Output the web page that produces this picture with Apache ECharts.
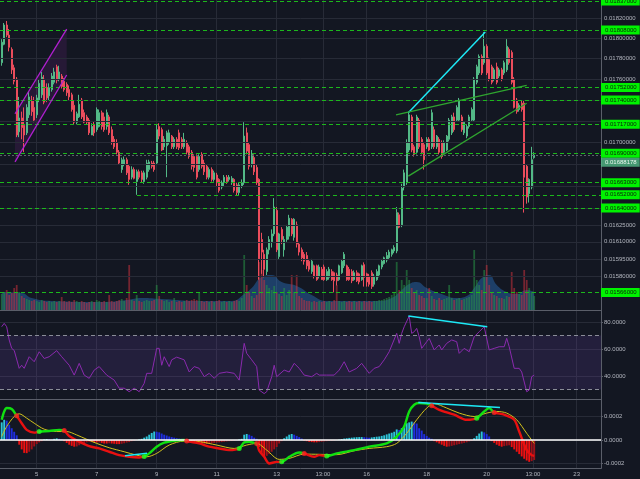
<!DOCTYPE html>
<html>
<head>
<meta charset="utf-8">
<script src="https://cdn.jsdelivr.net/npm/echarts@6/dist/echarts.min.js"></script>
<style>
  html, body { margin: 0; padding: 0; background: #131722; }
  #chart { width: 640px; height: 479px; }
</style>
</head>
<body>
<div id="chart"></div>
<script>
// ETH/BTC style 2-hour candles, prices quoted in units of 0.00001
const UNIT = 1e-5;
const firstBarDay = 3 + 20 / 24;   // first bar: the 3rd, 20:00
const barStepDay = 2 / 24;         // 2-hour bars
const xMinDay = 3.7767, xMaxDay = 23.81;

const xTickDays = [5, 7, 9, 11, 13, 14 + 13 / 24, 16, 18, 20, 21 + 13 / 24, 23];
const xTickText = ['5', '7', '9', '11', '13', '13:00', '16', '18', '20', '13:00', '23'];

const openPx = [
  1776,1794,1813,1803,1789,1771,1760,1710,1723,1716,
  1709,1726,1740,1733,1726,1740,1745,1760,1752,1744,
  1750,1757,1772,1760,1763,1758,1755,1750,1745,1735,
  1719,1724,1740,1728,1724,1721,1707,1717,1712,1715,
  1728,1724,1715,1724,1712,1703,1700,1691,1675,1680,
  1684,1678,1668,1675,1664,1673,1672,1664,1668,1675,
  1681,1681,1681,1715,1712,1696,1697,1700,1706,1696,
  1703,1709,1703,1696,1700,1696,1691,1687,1687,1675,
  1689,1681,1678,1668,1675,1666,1670,1666,1659,1663,
  1668,1666,1663,1666,1661,1654,1660,1663,1709,1698,
  1680,1686,1677,1666,1612,1599,1584,1603,1610,1617,
  1638,1597,1621,1603,1612,1615,1630,1614,1625,1608,
  1603,1599,1598,1593,1584,1589,1589,1580,1586,1588,
  1577,1579,1584,1583,1581,1577,1583,1589,1589,1586,
  1584,1577,1583,1582,1577,1590,1582,1580,1583,1573,
  1577,1581,1588,1591,1594,1596,1599,1602,1602,1634,
  1625,1659,1663,1693,1724,1696,1691,1721,1703,1698,
  1696,1703,1696,1712,1696,1703,1700,1691,1693,1703,
  1709,1724,1721,1721,1724,1709,1706,1715,1721,1721,
  1757,1766,1782,1776,1792,1779,1772,1760,1772,1763,
  1769,1766,1769,1789,1786,1760,1740,1731,1737,1737,
  1678,1653,1659,1686
];
const closePx = [
  1796,1813,1803,1791,1769,1758,1707,1723,1714,1707,
  1733,1743,1729,1721,1742,1756,1762,1738,1742,1752,
  1763,1767,1759,1767,1753,1750,1747,1743,1731,1719,
  1727,1736,1724,1719,1719,1709,1715,1709,1731,1728,
  1715,1712,1728,1709,1700,1696,1691,1681,1684,1684,
  1672,1666,1675,1667,1673,1668,1666,1672,1681,1682,
  1678,1675,1712,1706,1693,1703,1709,1709,1696,1703,
  1696,1695,1696,1703,1691,1687,1678,1677,1668,1687,
  1678,1673,1668,1675,1666,1672,1663,1656,1663,1668,
  1664,1668,1667,1656,1654,1661,1663,1706,1692,1678,
  1689,1673,1663,1595,1601,1586,1603,1612,1617,1641,
  1603,1617,1612,1612,1623,1631,1617,1630,1608,1601,
  1596,1593,1589,1586,1593,1580,1577,1588,1577,1577,
  1584,1586,1577,1576,1576,1589,1593,1599,1577,1577,
  1576,1583,1576,1575,1589,1579,1575,1573,1571,1580,
  1584,1589,1593,1596,1598,1601,1603,1605,1636,1623,
  1658,1672,1700,1726,1693,1689,1724,1696,1691,1684,
  1703,1693,1728,1696,1706,1691,1687,1700,1706,1721,
  1724,1712,1733,1740,1712,1719,1715,1724,1731,1760,
  1772,1782,1766,1792,1766,1760,1757,1769,1757,1769,
  1760,1776,1792,1776,1757,1733,1729,1735,1731,1668,
  1650,1666,1684,1688.178
];
const lowPx = [
  1773,1793,1801,1787,1765,1755,1705,1705,1703,1691,
  1707,1723,1725,1719,1723,1738,1742,1736,1738,1740,
  1748,1755,1756,1758,1751,1748,1744,1740,1729,1717,
  1717,1723,1722,1718,1717,1707,1707,1706,1710,1714,
  1712,1710,1712,1707,1698,1694,1689,1680,1672,1678,
  1670,1661,1666,1666,1652,1666,1663,1662,1666,1673,
  1676,1673,1680,1703,1692,1693,1668,1698,1694,1694,
  1694,1693,1694,1694,1689,1685,1675,1673,1666,1673,
  1676,1670,1666,1666,1664,1664,1660,1654,1657,1660,
  1662,1664,1661,1654,1651,1651,1658,1661,1689,1675,
  1677,1670,1661,1577,1582,1579,1581,1599,1605,1615,
  1601,1595,1608,1597,1610,1612,1615,1611,1605,1598,
  1593,1590,1586,1584,1582,1578,1576,1578,1577,1576,
  1576,1577,1576,1566,1572,1576,1582,1587,1576,1576,
  1574,1576,1575,1573,1576,1571,1571,1571,1569,1571,
  1576,1579,1586,1590,1592,1595,1597,1600,1600,1622,
  1623,1656,1661,1691,1691,1687,1689,1694,1689,1675,
  1694,1692,1694,1694,1694,1689,1685,1689,1692,1701,
  1707,1710,1720,1720,1710,1707,1704,1713,1720,1720,
  1755,1764,1764,1774,1764,1758,1755,1758,1755,1761,
  1758,1764,1767,1774,1755,1732,1727,1729,1729,1636,
  1644,1645,1657,1685
];
const highPx = [
  1799,1815,1817,1809,1791,1774,1762,1743,1729,1733,
  1736,1748,1744,1743,1745,1760,1767,1764,1756,1756,
  1766,1771,1774,1773,1765,1761,1757,1754,1747,1740,
  1729,1745,1742,1731,1726,1723,1718,1720,1733,1731,
  1730,1728,1731,1726,1715,1706,1703,1693,1686,1687,
  1686,1680,1678,1677,1675,1675,1674,1674,1684,1684,
  1683,1683,1717,1718,1714,1706,1711,1712,1707,1705,
  1705,1712,1705,1709,1702,1698,1693,1689,1689,1689,
  1691,1684,1680,1677,1677,1674,1672,1667,1665,1670,
  1670,1670,1669,1667,1663,1663,1666,1719,1714,1700,
  1693,1689,1680,1667,1618,1603,1605,1615,1621,1649,
  1641,1618,1623,1615,1625,1634,1631,1631,1628,1610,
  1605,1601,1601,1595,1595,1590,1590,1590,1588,1590,
  1586,1588,1586,1584,1583,1590,1595,1601,1590,1588,
  1586,1585,1585,1583,1590,1592,1583,1582,1585,1582,
  1586,1590,1595,1597,1601,1603,1604,1607,1641,1636,
  1662,1675,1703,1729,1726,1698,1726,1723,1705,1700,
  1705,1705,1731,1715,1707,1705,1702,1702,1707,1723,
  1726,1728,1735,1742,1726,1720,1717,1726,1733,1762,
  1774,1784,1784,1806,1794,1781,1774,1771,1776,1771,
  1771,1778,1799,1791,1788,1762,1742,1737,1740,1740,
  1680,1667,1696,1691
];

// traded volume per bar (relative units)
const volume = [
  16,18,20,15,17,22,25,18,14,12,
  11,10,9,10,9,8,10,9,8,9,
  8,9,8,9,13,9,8,9,8,10,
  9,8,9,8,7,8,9,8,10,9,
  8,9,8,15,9,8,9,10,11,9,
  12,45,10,9,15,9,8,9,10,9,
  9,10,25,14,10,9,10,8,9,12,
  8,9,8,9,10,9,10,11,10,17,
  9,8,9,8,9,8,9,10,8,9,
  8,9,8,9,10,9,12,55,25,18,
  14,12,15,48,40,30,25,22,20,24,
  18,16,14,22,15,20,35,18,35,14,
  12,10,9,9,8,9,8,9,8,9,
  8,9,8,10,25,9,8,9,8,9,
  8,9,8,9,8,9,8,9,8,9,
  9,10,10,11,12,13,15,18,48,20,
  30,25,40,30,22,18,20,15,14,12,
  12,22,14,11,10,12,10,11,12,25,
  12,10,11,12,10,11,12,13,15,60,
  30,25,20,40,45,25,18,15,14,12,
  12,11,14,13,38,22,18,16,15,40,
  30,22,18,14
];
// smoothed volume band: [bar, level]
const volumeAvg = [
  [0,18],[8,17],[12,12],[20,9],[40,8],[50,10],[56,12],[64,11],[80,9],[92,9],
  [97,16],[100,22],[104,33],[108,35],[112,28],[118,24],[124,15],[130,9],[150,9],
  [156,12],[160,20],[163,26],[166,28],[170,22],[176,16],[182,12],[186,14],[189,22],
  [192,32],[195,35],[198,25],[202,18],[206,16],[210,20],[213,18]
];

// RSI readings: [bar, value]
const rsiPts = [
  [0,76.5],[1,79],[2,76.5],[3,66.7],[4,60.5],[5,59],[7,45.7],[8,48],[9,45.7],[11,54.3],
  [13,50.6],[15,58],[17,53],[19,54.3],[22,58.8],[24,54.3],[27,48],[29,40.7],[31,49.4],[33,40.7],
  [35,38.3],[37,44.4],[39,47],[42,40.7],[45,37],[47,31],[49,31],[51,28.4],[53,31],[55,28.4],
  [57,34.6],[58,42],[60,42],[62,60.5],[63,60.5],[64,48],[65,54.3],[67,47],[68,52],[70,54],
  [73,52],[75,43],[77,47],[79,45.7],[81,39.5],[83,42],[85,38.3],[87,42],[90,43],[93,42],
  [95,37],[97,64.2],[98,56.8],[100,52],[102,47],[103,29.6],[105,27],[106,28.4],[108,39.5],[109,48],
  [110,39.5],[113,44.4],[115,43],[117,49.4],[119,45.7],[121,40.7],[124,39.5],[126,42],[127,40.7],[130,40.7],
  [133,40.7],[135,44.4],[137,50.6],[139,43],[142,45.7],[144,49.4],[147,42],[149,45.7],[151,47],[153,52],
  [155,58],[158,71.6],[159,64.2],[160,71.6],[161,76.5],[163,84.4],[164,71.6],[165,72.8],[166,75.3],[167,69.1],
  [168,60.5],[170,65.4],[171,67.9],[173,59.3],[175,63],[176,59.3],[178,64.2],[180,66.7],[182,65.4],[183,56.8],
  [185,60.5],[187,58],[189,69.1],[191,72.8],[193,76.5],[195,59.3],[197,60.5],[199,61.7],[201,61.7],[202,67.9],
  [203,61.7],[205,45.7],[207,45.7],[208,43],[210,28.4],[211,29.6],[212,39.5],[213,40.7]
];

// MACD in units of 0.000001: [bar, value]
const macdPts = [
  [0,172],[1,243],[2,272],[4,264],[6,206],[8,143],[10,86],[13,63],[15,72],[19,77],
  [23,86],[25,80],[27,34],[31,-14],[35,-52],[39,-72],[43,-100],[47,-129],[51,-143],[55,-149],
  [57,-140],[59,-114],[62,-57],[65,-23],[69,-6],[73,0],[74,-8],[75,-14],[79,-29],[83,-57],
  [87,-72],[91,-86],[95,-72],[97,-20],[99,-15],[101,-25],[102,-29],[103,-90],[105,-143],[107,-200],
  [110,-186],[112,-186],[115,-143],[119,-106],[121,-114],[125,-143],[127,-129],[130,-137],[134,-114],[141,-86],
  [147,-57],[154,-29],[158,29],[161,115],[163,243],[165,300],[167,315],[170,309],[172,292],[175,257],
  [181,215],[186,172],[190,186],[193,243],[195,272],[197,235],[201,215],[205,172],[207,72],[210,-86],
  [212,-129],[213,-135]
];
const signalPts = [
  [0,29],[2,115],[5,200],[7,223],[10,186],[13,143],[17,92],[22,72],[26,72],[30,43],
  [34,6],[38,-29],[43,-66],[49,-100],[54,-129],[58,-143],[62,-114],[67,-43],[73,-9],[79,-14],
  [86,-43],[93,-72],[98,-43],[102,-29],[106,-86],[111,-165],[115,-157],[121,-120],[127,-122],[134,-125],
  [141,-92],[147,-72],[154,-57],[158,-29],[162,57],[166,172],[170,272],[173,309],[178,272],[183,229],
  [189,200],[194,229],[198,243],[202,229],[206,172],[210,57],[213,-29]
];
const histVals = [
  150,172,165,130,100,70,40,-40,-80,-110,
  -112,-100,-80,-55,-35,-20,-10,5,8,6,
  4,10,14,10,3,-10,-25,-40,-50,-57,
  -55,-45,-35,-28,-20,-15,-18,-20,-22,-20,
  -25,-30,-30,-28,-30,-32,-35,-35,-32,-28,
  -22,-18,-10,-5,0,5,10,20,30,45,
  60,72,70,65,55,45,38,30,25,20,
  15,12,10,8,5,-10,-15,-20,-25,-28,
  -30,-30,-32,-30,-28,-25,-22,-20,-18,-15,
  -12,-10,-8,-4,0,5,10,45,51,45,
  35,20,10,-60,-110,-143,-135,-120,-100,-80,
  -60,-30,-10,15,30,45,51,45,35,25,
  12,-5,-10,-15,-18,-20,-20,-18,-15,-12,
  -10,-8,-5,-3,0,3,8,12,15,18,
  20,22,24,25,25,24,22,20,22,25,
  28,30,35,40,48,55,62,70,90,85,
  100,120,143,150,157,150,140,100,80,50,
  35,20,10,-10,-20,-30,-40,-50,-57,-55,
  -50,-45,-40,-35,-30,-25,-20,-12,-5,15,
  35,55,72,65,50,30,-10,-25,-40,-50,
  -57,-52,-48,-45,-60,-80,-100,-120,-140,-160,
  -175,-186,-180,-170
];
// bars where the MACD line crosses its signal (first one turns red)
const macdCrossBars = [6, 15, 25, 57, 74, 95, 102, 112, 121, 130, 172, 190, 197];

// price scale grid and labelled ticks
const priceGrid = [0.0182, 0.0180, 0.0178, 0.0176, 0.0174, 0.0172, 0.0170, 0.0168, 0.0166, 0.0164, 0.01625, 0.0161, 0.01595, 0.0158];
const priceTickText = [0.0182, 0.0180, 0.0178, 0.0176, 0.0170, 0.01625, 0.0161, 0.01595, 0.0158];
const priceFloorLabel = 0.01552;

// horizontal support / resistance levels and the day each one starts
const levelPrices = [0.01837, 0.01808, 0.01752, 0.01740, 0.01717, 0.01690, 0.01663, 0.01652, 0.01640, 0.01566];
const levelStart  = [xMinDay, xMinDay, xMinDay, xMinDay, xMinDay, xMinDay, xMinDay, 8.343, xMinDay, xMinDay];
const lastPrice = 0.01688178;

// drawn trendlines: [[day, price], [day, price]]
const channelUpper = [[4.277, 0.01727], [6.0, 0.01809]];
const channelLower = [[4.277, 0.01682], [6.0, 0.01764]];
const cyanPriceLine = [[17.387, 0.01728], [19.953, 0.01806]];
const wedgeUpper = [[16.977, 0.01726], [21.333, 0.01754]];
const wedgeLower = [[17.387, 0.01669], [21.333, 0.01737]];
const rsiDivergence = [[17.387, 84.4], [20.02, 76.5]];
const macdDivergence = [[17.72, 319], [20.443, 277]];
const macdShortLine = [[7.943, -134], [8.677, -113]];

// ---------------------------------------------------------------
const dayOf = i => firstBarDay + i * barStepDay;
const FONT = 'Liberation Sans';
const TXT = '#b2b5be';
const GRIDC = '#272b37';
const SEPC = '#5a5e69';
const UP = '#53b987', DOWN = '#eb4d5c';
const LEVEL = '#1cb81c';

const candleData = openPx.map((o, i) => [dayOf(i), o * UNIT, closePx[i] * UNIT, lowPx[i] * UNIT, highPx[i] * UNIT]);
const volData = volume.map((v, i) => ({
  value: [dayOf(i), v],
  itemStyle: { color: closePx[i] >= openPx[i] ? 'rgba(40,150,70,0.55)' : 'rgba(200,50,60,0.55)' }
}));
const volAvgData = volumeAvg.map(([i, v]) => [dayOf(i), v]);
const rsiData = rsiPts.map(([i, v]) => [dayOf(i), v]);
const macdData = macdPts.map(([i, v]) => [dayOf(i), v]);
const signalData = signalPts.map(([i, v]) => [dayOf(i), v]);
const histData = histVals.map((v, i) => {
  const prev = i > 0 ? histVals[i - 1] : v;
  let c;
  if (v >= 0) c = v >= prev ? '#2ec4d8' : '#1f2ee0';
  else c = v <= prev ? '#ef1010' : '#a01018';
  return { value: [dayOf(i), v], itemStyle: { color: c } };
});
const macdByBar = new Map(macdPts);
const crossData = macdCrossBars.map((b, k) => ({
  value: [dayOf(b), macdByBar.get(b)],
  itemStyle: { color: k % 2 === 0 ? '#ff2020' : '#20ff20' }
}));
// colour sections of the MACD line, alternating between crossings
const macdPieces = [];
const edges = [xMinDay].concat(macdCrossBars.map(dayOf), [xMaxDay + 1]);
for (let k = 0; k < edges.length - 1; k++) {
  macdPieces.push({ gte: edges[k], lt: edges[k + 1], color: k % 2 === 0 ? '#10e010' : '#e81010' });
}

const tickLabel = v => {
  let best = 0;
  xTickDays.forEach((d, k) => { if (Math.abs(d - v) < Math.abs(xTickDays[best] - v)) best = k; });
  return xTickText[best];
};

function xAxisFor(gridIndex, withLabels) {
  return {
    type: 'value', gridIndex, min: xMinDay, max: xMaxDay,
    axisLine: { show: true, onZero: false, lineStyle: { color: SEPC, width: 1 } },
    axisTick: { show: false, customValues: xTickDays },
    axisLabel: {
      show: withLabels, customValues: xTickDays, formatter: tickLabel,
      color: TXT, fontSize: 6, fontFamily: FONT, margin: 3
    },
    splitLine: { show: true, lineStyle: { color: GRIDC, width: 1 } }
  };
}

const line = (pts, color, width) => [
  { coord: pts[0], lineStyle: { color, width, type: 'solid' }, label: { show: false } },
  { coord: pts[1] }
];

// full-width horizontal price line with a scale label at the right
const priceRow = (p, showLabel, style) => [
  {
    name: p.toFixed(8), coord: [xMinDay, p],
    lineStyle: style,
    label: { show: showLabel, color: TXT, backgroundColor: 'transparent', padding: 0, distance: 3 }
  },
  { coord: [xMaxDay, p] }
];

const option = {
  backgroundColor: '#131722',
  animation: false,
  textStyle: { fontFamily: FONT },
  grid: [
    { left: 0, right: 39, top: 0, height: 310 },
    { left: 0, right: 39, top: 240, height: 70 },
    { left: 0, right: 39, top: 310, height: 89 },
    { left: 0, right: 39, top: 399, height: 69.3 }
  ],
  xAxis: [
    xAxisFor(0, false),
    { type: 'value', gridIndex: 1, min: xMinDay, max: xMaxDay, show: false },
    xAxisFor(2, false),
    xAxisFor(3, true)
  ],
  yAxis: [
    {
      type: 'log', gridIndex: 0, position: 'right', min: 0.01551, max: 0.01838,
      axisLine: { show: true, lineStyle: { color: SEPC } },
      axisTick: { show: false }, axisLabel: { show: false }, splitLine: { show: false }
    },
    { type: 'value', gridIndex: 1, min: 0, max: 70, show: false },
    {
      type: 'value', gridIndex: 2, position: 'right', min: 23, max: 88.9,
      axisLine: { show: true, lineStyle: { color: SEPC } },
      axisTick: { show: true, length: 2, customValues: [40, 60, 80], lineStyle: { color: SEPC } },
      axisLabel: { customValues: [40, 60, 80], formatter: v => v.toFixed(4), color: TXT, fontSize: 6, fontFamily: FONT, margin: 3 },
      splitLine: { show: true, lineStyle: { color: GRIDC } }
    },
    {
      type: 'value', gridIndex: 3, position: 'right', min: -241, max: 349,
      axisLine: { show: true, lineStyle: { color: SEPC } },
      axisTick: { show: true, length: 2, customValues: [-200, 0, 200], lineStyle: { color: SEPC } },
      axisLabel: { customValues: [-200, 0, 200], formatter: v => (v / 1e6).toFixed(4), color: TXT, fontSize: 6, fontFamily: FONT, margin: 3 },
      splitLine: { show: true, lineStyle: { color: GRIDC } }
    }
  ],
  visualMap: [{
    type: 'piecewise', show: false, seriesIndex: 9, dimension: 0,
    pieces: macdPieces
  }],
  series: [
    // 0: price grid lines with their scale labels
    {
      type: 'line', xAxisIndex: 0, yAxisIndex: 0, data: [], z: 1, silent: true,
      markLine: {
        silent: true, symbol: ['none', 'none'], animation: false,
        lineStyle: { color: GRIDC, width: 1, type: 'solid' },
        label: { position: 'end', distance: 3, color: TXT, fontSize: 6, fontFamily: FONT, formatter: '{b}' },
        data: priceGrid.map(p => priceRow(p, priceTickText.includes(p), { color: GRIDC, width: 1, type: 'solid' }))
          .concat([priceRow(priceFloorLabel, true, { opacity: 0 })])
      }
    },
    // 1: volume bars
    { type: 'bar', xAxisIndex: 1, yAxisIndex: 1, data: volData, barWidth: 1.8, z: 1, silent: true },
    // 2: smoothed volume band
    {
      type: 'line', xAxisIndex: 1, yAxisIndex: 1, data: volAvgData, smooth: true, symbol: 'none', z: 1,
      lineStyle: { width: 0 }, areaStyle: { color: 'rgba(44,122,205,0.58)' }, silent: true
    },
    // 3: rising channel fill
    {
      type: 'custom', xAxisIndex: 0, yAxisIndex: 0, z: 2, silent: true,
      data: [channelUpper[0]],
      renderItem: (params, api) => ({
        type: 'polygon',
        shape: { points: [channelUpper[0], channelUpper[1], channelLower[1], channelLower[0]].map(p => api.coord(p)) },
        style: { fill: 'rgba(156,39,176,0.14)' }
      })
    },
    // 4: candles
    {
      type: 'candlestick', xAxisIndex: 0, yAxisIndex: 0, data: candleData, barWidth: 1.8, z: 3,
      encode: { x: 0, y: [1, 2, 3, 4] },
      itemStyle: { color: UP, color0: DOWN, borderColor: UP, borderColor0: DOWN, borderWidth: 1 }
    },
    // 5: levels, last price and trendlines
    {
      type: 'line', xAxisIndex: 0, yAxisIndex: 0, data: [], z: 4, silent: true,
      markLine: {
        silent: true, symbol: ['none', 'none'], animation: false,
        lineStyle: { color: LEVEL, width: 1.2, type: [4, 3] },
        label: {
          position: 'end', distance: 0, formatter: '{b}', fontSize: 6, fontFamily: FONT,
          color: '#0b200b', backgroundColor: '#00f200', padding: [1, 3, 1, 4], lineHeight: 7
        },
        data: levelPrices.map((p, k) => [
          { name: p.toFixed(8), coord: [levelStart[k], p] },
          { coord: [xMaxDay, p] }
        ]).concat([
          [{ name: lastPrice.toFixed(8), coord: [xMinDay, lastPrice],
             lineStyle: { color: '#5d616c', width: 1, type: [2, 2] },
             label: { backgroundColor: 'rgba(83,185,135,0.8)', color: '#e9f6ef', offset: [0, 7] } },
           { coord: [xMaxDay, lastPrice] }],
          line(channelUpper, '#b01fd0', 1.3),
          line(channelLower, '#b01fd0', 1.3),
          line(cyanPriceLine, '#1de9f6', 1.5),
          line(wedgeUpper, '#2fa52f', 1.3),
          line(wedgeLower, '#2fa52f', 1.3)
        ])
      }
    },
    // 6: RSI
    {
      type: 'line', xAxisIndex: 2, yAxisIndex: 2, data: rsiData, symbol: 'none', z: 3,
      lineStyle: { color: '#8a2aae', width: 1 }, silent: true,
      markArea: { silent: true, itemStyle: { color: 'rgba(120,70,190,0.17)' }, data: [[{ yAxis: 30 }, { yAxis: 70 }]] },
      markLine: {
        silent: true, symbol: ['none', 'none'], animation: false, label: { show: false },
        lineStyle: { color: '#8a8d98', width: 1, type: [4, 3] },
        data: [{ yAxis: 70 }, { yAxis: 30 }, line(rsiDivergence, '#1de9f6', 1.5)]
      }
    },
    // 7: MACD histogram
    {
      type: 'bar', xAxisIndex: 3, yAxisIndex: 3, data: histData, barWidth: 1.9, z: 2, silent: true,
      markLine: {
        silent: true, symbol: ['none', 'none'], animation: false, label: { show: false },
        lineStyle: { color: '#ffffff', width: 1.6, type: 'solid' },
        data: [{ yAxis: 0 }, line(macdDivergence, '#1de9f6', 1.5), line(macdShortLine, '#1de9f6', 1.5)]
      }
    },
    // 8: signal line
    {
      type: 'line', xAxisIndex: 3, yAxisIndex: 3, data: signalData, symbol: 'none', smooth: 0.3, z: 3,
      lineStyle: { color: '#d2c21c', width: 1 }, silent: true
    },
    // 9: MACD line
    {
      type: 'line', xAxisIndex: 3, yAxisIndex: 3, data: macdData, symbol: 'none', smooth: 0.3, z: 4,
      lineStyle: { width: 2.4 }, silent: true
    },
    // 10: crossing markers
    {
      type: 'scatter', xAxisIndex: 3, yAxisIndex: 3, data: crossData, symbolSize: 5, z: 5, silent: true
    }
  ]
};

const chart = echarts.init(document.getElementById('chart'), null, { renderer: 'canvas' });
chart.setOption(option);
</script>
</body>
</html>
